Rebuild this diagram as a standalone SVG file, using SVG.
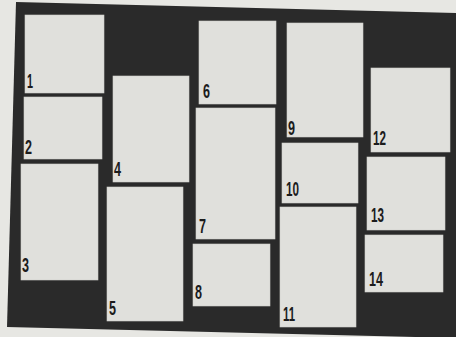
<svg xmlns="http://www.w3.org/2000/svg" width="456" height="337" viewBox="0 0 456 337">
<style>
.p{fill:#e0e0dc;stroke:#cfcfcb;stroke-width:0.6}
.n{font-family:"Liberation Sans",Arial,sans-serif;font-weight:bold;font-size:20px;fill:#1c1c1c}
</style>
<rect width="456" height="337" fill="#e7e7e3"/>
<polygon points="16,2 456,13 456,338 7,327" fill="#2a2a2a"/>
<g id="connectors"></g>
<g id="n1"><rect class="p" x="25" y="15" width="79" height="78"/><text class="n" x="27" y="88" textLength="6" lengthAdjust="spacingAndGlyphs">1</text></g>
<g id="n2"><rect class="p" x="24" y="97" width="78" height="62"/><text class="n" x="25" y="154" textLength="7" lengthAdjust="spacingAndGlyphs">2</text></g>
<g id="n3"><rect class="p" x="21" y="164" width="77" height="116"/><text class="n" x="22" y="272" textLength="7" lengthAdjust="spacingAndGlyphs">3</text></g>
<g id="n4"><rect class="p" x="113" y="76" width="76" height="106"/><text class="n" x="114" y="176" textLength="7" lengthAdjust="spacingAndGlyphs">4</text></g>
<g id="n5"><rect class="p" x="107" y="187" width="76" height="134"/><text class="n" x="109" y="315" textLength="7" lengthAdjust="spacingAndGlyphs">5</text></g>
<g id="n6"><rect class="p" x="199" y="21" width="77" height="83"/><text class="n" x="203" y="98" textLength="7" lengthAdjust="spacingAndGlyphs">6</text></g>
<g id="n7"><rect class="p" x="196" y="108" width="79" height="131"/><text class="n" x="199" y="233" textLength="7" lengthAdjust="spacingAndGlyphs">7</text></g>
<g id="n8"><rect class="p" x="193" y="244" width="77" height="62"/><text class="n" x="195" y="299" textLength="7" lengthAdjust="spacingAndGlyphs">8</text></g>
<g id="n9"><rect class="p" x="287" y="23" width="76" height="114"/><text class="n" x="288" y="135" textLength="7" lengthAdjust="spacingAndGlyphs">9</text></g>
<g id="n10"><rect class="p" x="282" y="143" width="76" height="60"/><text class="n" x="286" y="196" textLength="13" lengthAdjust="spacingAndGlyphs">10</text></g>
<g id="n11"><rect class="p" x="280" y="207" width="76" height="120"/><text class="n" x="283" y="321" textLength="12" lengthAdjust="spacingAndGlyphs">11</text></g>
<g id="n12"><rect class="p" x="371" y="68" width="79" height="84"/><text class="n" x="373" y="145" textLength="13" lengthAdjust="spacingAndGlyphs">12</text></g>
<g id="n13"><rect class="p" x="367" y="157" width="78" height="73"/><text class="n" x="371" y="222" textLength="13" lengthAdjust="spacingAndGlyphs">13</text></g>
<g id="n14"><rect class="p" x="365" y="235" width="78" height="57"/><text class="n" x="369" y="286" textLength="14" lengthAdjust="spacingAndGlyphs">14</text></g>
</svg>
